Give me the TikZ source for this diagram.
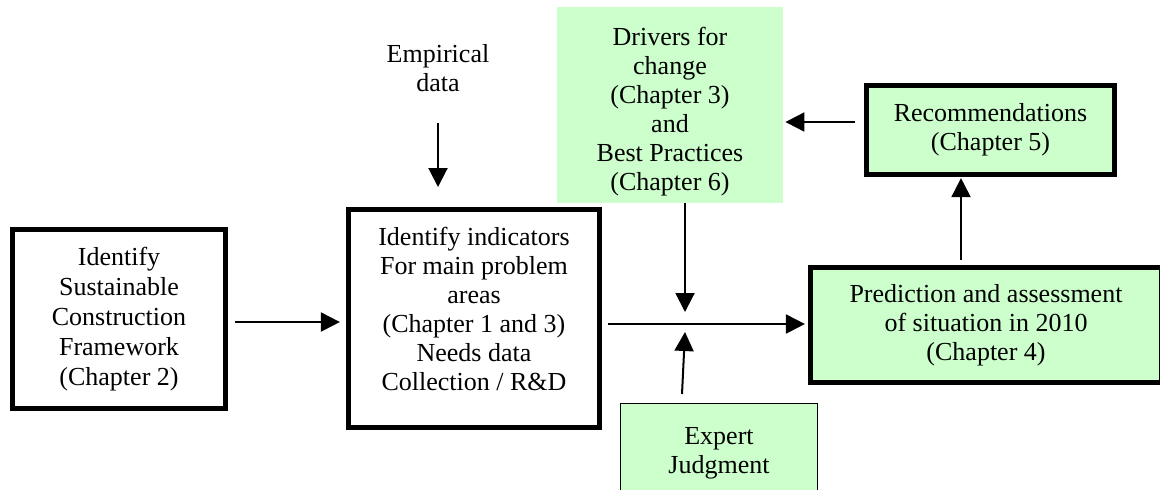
\documentclass[tikz,border=0pt]{standalone}
\usepackage{fontspec}
\setmainfont{Liberation Serif}
\usetikzlibrary{arrows.meta}
\definecolor{mintgreen}{HTML}{CCFFCC}
\begin{document}
\begin{tikzpicture}%
	[x=0.5pt, y=-0.5pt,
	font=\fontsize{13}{14.5}\selectfont,
	frame/.style={draw=black, line width=2.7pt, inner sep=0pt, align=center},
	greenbox/.style={fill=mintgreen, inner sep=0pt, align=center},
	thinbox/.style={draw=black, fill=mintgreen, line width=0.7pt, inner sep=0pt, align=center},
	arrow/.style={line width=1pt, -{Triangle[length=9.5pt,width=9.5pt]}}]
%%
%% Page size
%%
\useasboundingbox (0,0) rectangle (1160,489);
\clip (0,0) rectangle (1160,489);
%%
%% Drawing the boxes
%%
\node[frame, font=\fontsize{13}{15}\selectfont, minimum width=106.4pt, minimum height=89.4pt] (framework) at (119,319)
	{Identify\\Sustainable\\Construction\\Framework\\(Chapter 2)};
\node[frame, minimum width=125.4pt, minimum height=108.9pt] (indicators) at (474,318.5)
	{Identify indicators\\For main problem\\areas\\(Chapter 1 and 3)\\Needs data\\Collection / R\&D\\[-4.5pt]};
\node[greenbox, minimum width=113pt, minimum height=98pt] (drivers) at (670,105)
	{Drivers for\\change\\(Chapter 3)\\and\\Best Practices\\(Chapter 6)\\[-18pt]};
\node[frame, fill=mintgreen, minimum width=123.9pt, minimum height=44.4pt] (recs) at (990.5,130)
	{Recommendations\\(Chapter 5)};
\node[frame, fill=mintgreen, minimum width=175.4pt, minimum height=57.4pt] (prediction) at (986,325)
	{Prediction and assessment\\of situation in 2010\\(Chapter 4)};
\node[thinbox, minimum width=98.3pt, minimum height=49.3pt] (expert) at (719,453)
	{Expert\\Judgment};
\node[inner sep=0pt, align=center, anchor=south] (empirical) at (438,92)
	{Empirical\\data};
%%
%% Junction on the main line
%%
\coordinate (jtop) at (685,312);
\coordinate (jmid) at (685,324);
\coordinate (jbot) at (685,332);
\coordinate (etip) at (438,187);
%%
%% Drawing the arrows
%%
\draw[arrow, shorten <=3.5pt, shorten >=3pt] (framework.east |- 0,322) -- (indicators.west |- 0,322);
\draw[arrow, shorten <=3pt, shorten >=1.5pt] (indicators.east |- jmid) -- (prediction.west |- jmid);
\draw[arrow] (drivers.south -| jtop) -- (jtop);
\draw[arrow] ([xshift=-18.5pt, yshift=4.5pt]expert.north) -- (jbot);
\draw[arrow, shorten <=15.5pt] (empirical.south) -- (etip);
\draw[arrow, shorten <=4.5pt, shorten >=1pt] ([yshift=4pt]recs.west) -- ([yshift=4pt]recs.west -| drivers.east);
\draw[arrow, shorten <=2.5pt, shorten >=0.5pt] ([xshift=-12.5pt]prediction.north) -- ([xshift=-12.5pt]prediction.north |- recs.south);
%%
\end{tikzpicture}
\end{document}
